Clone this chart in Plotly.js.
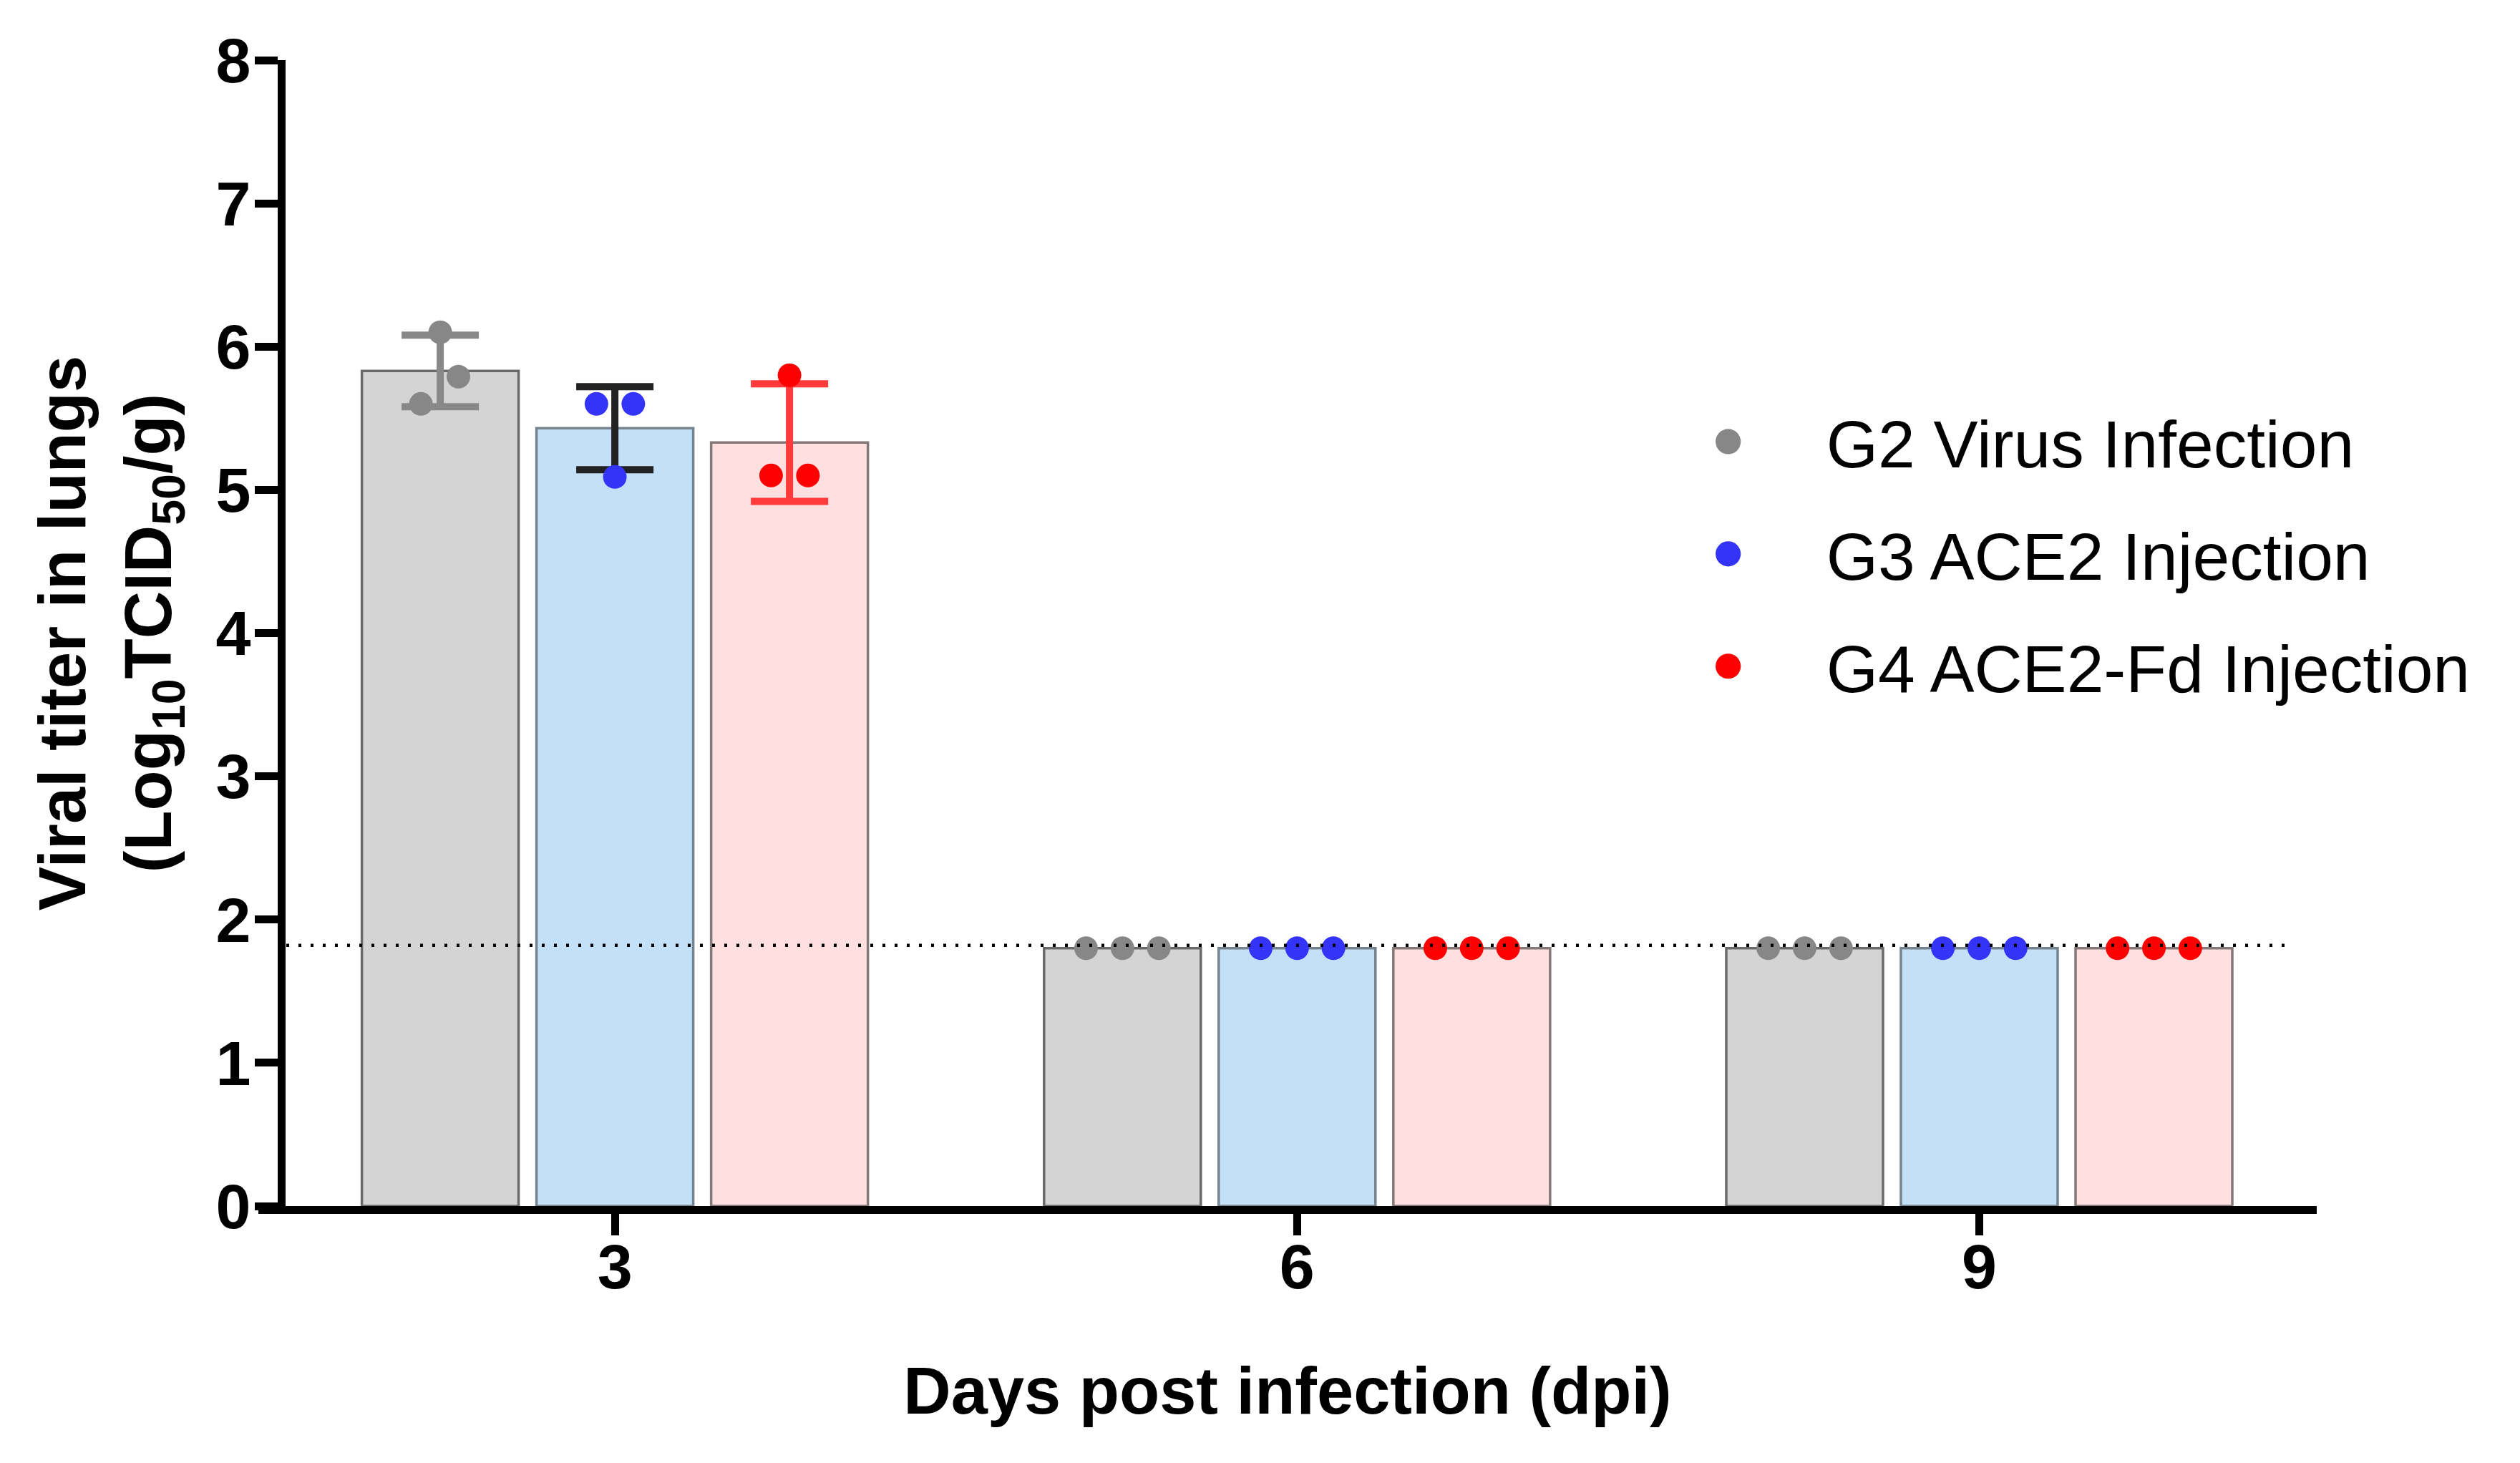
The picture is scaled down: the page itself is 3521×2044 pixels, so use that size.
<!DOCTYPE html>
<html>
<head>
<meta charset="utf-8">
<script src="https://cdn.plot.ly/plotly-3.0.1.min.js"></script>
<style>
  html, body { margin: 0; padding: 0; background: #ffffff; }
  #chart { width: 3521px; height: 2044px; }
</style>
</head>
<body>
<div id="chart"></div>
<script>
// ---------------- data ----------------
const days = [3, 6, 9];
const groupNames = ["G2 Virus Infection", "G3 ACE2 Injection", "G4 ACE2-Fd Injection"];

const g2Mean = [5.83, 1.80, 1.80];
const g2SD   = [0.25, 0, 0];
const g3Mean = [5.43, 1.80, 1.80];
const g3SD   = [0.29, 0, 0];
const g4Mean = [5.33, 1.80, 1.80];
const g4SD   = [0.41, 0, 0];

// individual animals (3 per group per day)
const g2Points = [[6.10, 5.79, 5.60], [1.80, 1.80, 1.80], [1.80, 1.80, 1.80]];
const g3Points = [[5.60, 5.60, 5.09], [1.80, 1.80, 1.80], [1.80, 1.80, 1.80]];
const g4Points = [[5.80, 5.10, 5.10], [1.80, 1.80, 1.80], [1.80, 1.80, 1.80]];

const detectionLimit = 1.82;
const yTickVals = [0, 1, 2, 3, 4, 5, 6, 7, 8];

// ---------------- styling / layout ----------------
const BARGAP = 0.232, BARGROUPGAP = 0.1025;
const daySpacing = 3;
const slot = daySpacing * (1 - BARGAP) / 3;     // width of one bar slot in x units
// horizontal spread of the dots inside each bar (x units), per day
const spread = [
  [[0, 0.08, -0.085], [-0.081, 0.081, 0], [0, -0.081, 0.081]],
  [[-0.16, 0, 0.16], [-0.16, 0, 0.16], [-0.16, 0, 0.16]],
  [[-0.16, 0, 0.16], [-0.16, 0, 0.16], [-0.16, 0, 0.16]]
];

const fills   = ["#d4d4d4", "#c2e0f8", "#ffdfe0"];
const borders = ["#6a6a6a", "#76838f", "#857879"];
const dotCol  = ["#878787", "#3434f8", "#ff0000"];
const errCol  = ["#888888", "#222222", "#ff3a3a"];

const means  = [g2Mean, g3Mean, g4Mean];
const sds    = [g2SD, g3SD, g4SD];
const points = [g2Points, g3Points, g4Points];

const FONT = "Liberation Sans, Arial, sans-serif";
const traces = [];

means.forEach((m, g) => {
  traces.push({
    type: "bar",
    x: days,
    y: m,
    name: groupNames[g],
    showlegend: false,
    marker: { color: fills[g], line: { color: borders[g], width: 3.5 } },
    error_y: {
      type: "data",
      array: sds[g].map(v => (v > 0 ? v : NaN)),
      visible: true,
      color: errCol[g],
      thickness: 10,
      width: 54
    },
    hoverinfo: "skip"
  });
});

points.forEach((pts, g) => {
  const xs = [], ys = [];
  pts.forEach((dayPts, d) => {
    dayPts.forEach((v, k) => {
      xs.push(days[d] + (g - 1) * slot + spread[d][g][k]);
      ys.push(v);
    });
  });
  traces.push({
    type: "scatter",
    mode: "markers",
    x: xs,
    y: ys,
    name: groupNames[g],
    legendgroup: "grp" + g,
    marker: { color: dotCol[g], size: 33, line: { width: 0 } },
    cliponaxis: false,
    hoverinfo: "skip"
  });
});

const plotL = 361, plotR = 3237.5, plotT = 84, plotB = 1685;
const W = 3521, H = 2044;
const plotW = plotR - plotL;

const layout = {
  width: W,
  height: H,
  margin: { l: plotL, r: W - plotR, t: plotT, b: H - plotB, pad: 0 },
  paper_bgcolor: "#ffffff",
  plot_bgcolor: "#ffffff",
  barmode: "group",
  bargap: BARGAP,
  bargroupgap: BARGROUPGAP,
  font: { family: FONT, color: "#000000" },
  xaxis: {
    range: [1.4323, 10.484],
    tickvals: days,
    ticktext: days.map(String),
    ticks: "outside",
    ticklen: 30,
    tickwidth: 11,
    tickcolor: "#000000",
    showline: true,
    linewidth: 11,
    linecolor: "#000000",
    showgrid: false,
    zeroline: false,
    ticklabelstandoff: -32,
    tickfont: { family: FONT, size: 88, weight: "bold", color: "#000000" },
    title: {
      text: "Days post infection (dpi)",
      font: { family: FONT, size: 92, weight: "bold", color: "#000000" },
      standoff: 97
    }
  },
  yaxis: {
    range: [0, 8],
    tickvals: yTickVals,
    ticktext: yTickVals.map(String),
    anchor: "free",
    position: (393 - plotL) / plotW,
    ticks: "outside",
    ticklen: 32,
    tickwidth: 11,
    tickcolor: "#000000",
    showline: true,
    linewidth: 11,
    linecolor: "#000000",
    showgrid: false,
    zeroline: false,
    ticklabelstandoff: -12,
    tickfont: { family: FONT, size: 88, weight: "bold", color: "#000000" },
    title: {
      text: "Viral titer in lungs<br>(Log<sub>10</sub>TCID<sub>50</sub>/g)",
      font: { family: FONT, size: 92, weight: "bold", color: "#000000" },
      standoff: 30
    }
  },
  shapes: [{
    type: "line",
    xref: "paper",
    yref: "y",
    x0: (400 - plotL) / plotW,
    x1: (3198 - plotL) / plotW,
    y0: detectionLimit,
    y1: detectionLimit,
    line: { color: "#000000", width: 4.5, dash: "4px,13px" },
    layer: "above"
  }],
  legend: {
    x: (2395 - plotL) / plotW,
    xanchor: "left",
    y: (plotB - 550) / (plotB - plotT),
    yanchor: "top",
    bgcolor: "rgba(0,0,0,0)",
    borderwidth: 0,
    font: { family: FONT, size: 93, color: "#000000" },
    traceorder: "grouped",
    tracegroupgap: 33,
    itemwidth: 147,
    itemsizing: "trace"
  },
  showlegend: true
};

function enlargeLegendDots(gd) {
  gd.querySelectorAll(".legend .legendpoints path.scatterpts").forEach(p => {
    p.setAttribute("transform", "translate(20,0) scale(2.2)");
  });
}

Plotly.newPlot("chart", traces, layout, { staticPlot: true, displayModeBar: false })
  .then(gd => {
    enlargeLegendDots(gd);
    gd.on("plotly_afterplot", () => enlargeLegendDots(gd));
  });
</script>
</body>
</html>
